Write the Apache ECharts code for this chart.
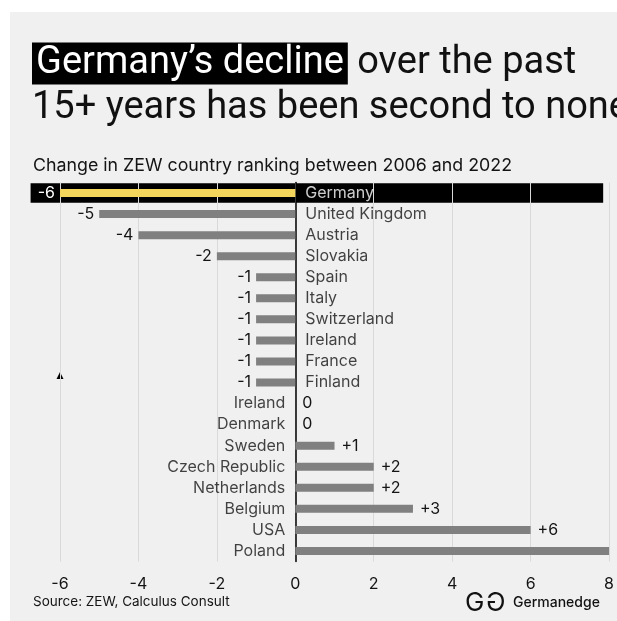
<!DOCTYPE html>
<html>
<head>
<meta charset="utf-8">
<script src="https://cdn.jsdelivr.net/npm/echarts@6/dist/echarts.min.js"></script>
<style>
html,body{margin:0;padding:0;background:#ffffff;}
#panel{position:absolute;left:10px;top:12px;width:607px;height:609px;background:#f0f0f0;}
#chart{position:absolute;left:0;top:0;width:617px;height:621px;}
</style>
</head>
<body>
<div id="panel"></div>
<div id="chart"></div>
<script>
// ---- data ----
const categories = ['Germany','United Kingdom','Austria','Slovakia','Spain','Italy','Switzerland','Ireland','France','Finland','Ireland','Denmark','Sweden','Czech Republic','Netherlands','Belgium','USA','Poland'];
const changes = [-6,-5,-4,-2,-1,-1,-1,-1,-1,-1,0,0,1,2,2,3,6,8];
const hiddenValueLabels = ['Poland'];
const highlightCategory = 'Germany';
const highlightSpan = [-6.75, 7.85];

const TFONT = 'Roboto';
const FONT = 'Inter';
const TXT = '#141414';
const hiIdx = categories.indexOf(highlightCategory);

const chart = echarts.init(document.getElementById('chart'), null, {renderer:'canvas'});

const barData = changes.map((v,i)=>({
  value: v,
  itemStyle: {color: i===hiIdx ? '#f5d65c' : '#808080'},
  label: {
    show: hiddenValueLabels.indexOf(categories[i]) < 0,
    position: v < 0 ? 'left' : 'right',
    distance: v < 0 ? 5 : 7,
    color: i===hiIdx ? '#ffffff' : TXT,
    formatter: v > 0 ? '+' + v : String(v)
  }
}));

const nameData = changes.map((v,i)=>({
  value: [0, i],
  label: {
    show: true,
    position: v < 0 ? 'right' : 'left',
    distance: 10,
    color: i===hiIdx ? '#ffffff' : TXT,
    formatter: categories[i]
  }
}));

chart.setOption({
  backgroundColor: 'transparent',
  animation: false,
  title: {
    left: 27, top: 36, padding: 5,
    text: '{h|Germany’s decline} over the past\n15+ years has been second to none',
    textStyle: {fontFamily: TFONT, fontSize: 38, fontWeight: 'normal', color: '#111', lineHeight: 45,
      rich: {h: {fontFamily: TFONT, fontSize: 38, color: '#fff', backgroundColor: '#000', padding: [2,4,2,4], lineHeight: 45}}}
  },
  graphic: [
    {type:'text', left: 33, top: 157, style:{text:'Change in ZEW country ranking between 2006 and 2022', font:'17.8px Inter', fill: TXT}},
    {type:'text', left: 33, top: 595, style:{text:'Source: ZEW, Calculus Consult', font:'13.5px Inter', fill: TXT}},
    {type:'text', left: 465, top: 590, style:{text:'G', font:'26px Inter', fill:'#111'}},
    {type:'text', left: 486, top: 590, scaleX: -1, originX: 10, style:{text:'G', font:'26px Inter', fill:'#111'}},
    {type:'text', left: 513, top: 596, style:{text:'Germanedge', font:'500 14px Inter', fill:'#111'}},
    {type:'polygon', shape:{points:[[60,372],[56.5,379],[63.5,379]]}, style:{fill:'#000'}}
  ],
  grid: {left: 60, right: 5, top: 182.5, bottom: 59.5, containLabel: false},
  xAxis: {
    type: 'value', min: -6, max: 8, interval: 2,
    axisLine: {show:false}, axisTick: {show:false},
    splitLine: {show:true, lineStyle:{color:'#d9d9d9', width:1}},
    axisLabel: {fontFamily: FONT, fontSize: 16, color: TXT, margin: 15}
  },
  yAxis: {
    type: 'category', data: categories, inverse: true,
    axisLine: {show:true, onZero:true, lineStyle:{color:'#000', width:1.5}},
    axisTick: {show:false}, axisLabel: {show:false}, splitLine:{show:false}
  },
  series: [
    {
      type: 'custom', z: -1, silent: true,
      data: [[highlightSpan[0], highlightSpan[1], hiIdx]],
      renderItem: function(params, api){
        const p0 = api.coord([api.value(0), api.value(2)]);
        const p1 = api.coord([api.value(1), api.value(2)]);
        const h = api.size([0,1])[1] * 0.92;
        return {type:'rect', shape:{x:p0[0], y:p0[1]-h/2, width:p1[0]-p0[0], height:h}, style:{fill:'#000'}};
      }
    },
    {
      type: 'bar', data: barData, barWidth: 8,
      label: {fontFamily: FONT, fontSize: 16}
    },
    {
      type: 'scatter', data: nameData, symbolSize: 0, silent: true,
      label: {fontFamily: FONT, fontSize: 16}
    }
  ]
});
</script>
</body>
</html>
